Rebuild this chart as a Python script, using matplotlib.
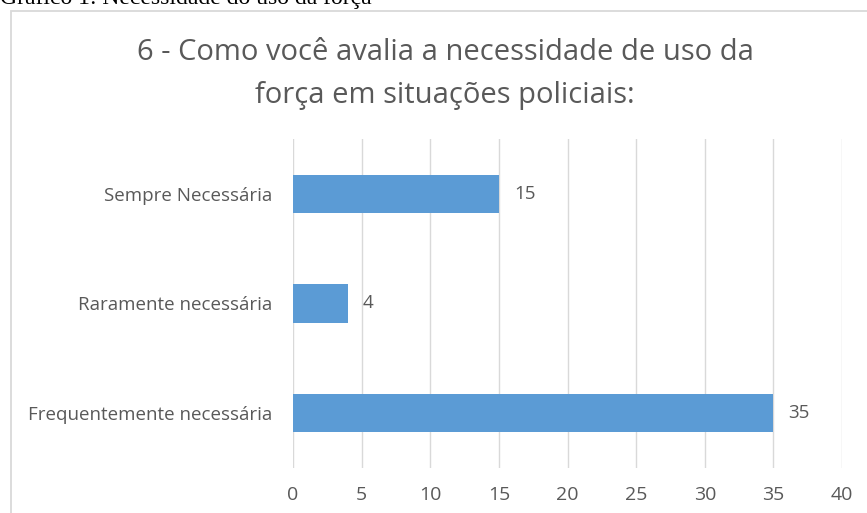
import matplotlib
matplotlib.use("Agg")
import matplotlib.pyplot as plt
from matplotlib.patches import Rectangle

categories = ["Frequentemente necessária", "Raramente necessária", "Sempre Necessária"]
values = [35, 4, 15]
ticks = [0, 5, 10, 15, 20, 25, 30, 35, 40]
title = "6 - Como você avalia a necessidade de uso da\nforça em situações policiais:"
caption = "Gráfico 1: Necessidade do uso da força"

W, H = 867, 513
fig = plt.figure(figsize=(W / 100, H / 100), dpi=100)
fig.patch.set_facecolor("white")

# chart border (cut by image edges)
fig.add_artist(Rectangle((10.5 / W, -0.1), 1.2, (H - 11.5) / H + 0.1, transform=fig.transFigure,
                         fill=False, edgecolor="#d9d9d9", linewidth=1.3))

# caption, cut at top
fig.text(0.0, 1 - 4 / H, caption, family="Liberation Serif", fontsize=17, color="black",
         ha="left", va="baseline")

ax = fig.add_axes([293 / W, 1 - 468 / H, (842 - 293) / W, (468 - 139) / H])
ypos = list(range(len(categories)))
ax.barh(ypos, values, height=0.35, color="#5b9bd5", zorder=3)
ax.set_xlim(0, 40)
ax.set_ylim(-0.5, len(categories) - 0.5)
ax.set_xticks(ticks)
ax.set_xticklabels([str(t) for t in ticks])
ax.set_yticks(ypos)
ax.set_yticklabels(categories)
ax.grid(axis="x", color="#d9d9d9", linewidth=1, zorder=0)
for s in ax.spines.values():
    s.set_visible(False)
ax.tick_params(axis="both", length=0, colors="#595959", labelsize=13.5)
ax.tick_params(axis="x", pad=13, labelsize=14)
ax.tick_params(axis="y", pad=15)
for lab in ax.get_xticklabels() + ax.get_yticklabels():
    lab.set_family("Open Sans")
    lab.set_color("#595959")

for y, v in zip(ypos, values):
    ax.text(v + 1.1, y, str(v), va="center", ha="left", family="Open Sans",
            fontsize=13.5, color="#595959")

fig.text(445 / W, 1 - 74 / H, title, ha="center", va="center", family="Open Sans",
         fontsize=21, color="#595959", linespacing=1.62)

fig.savefig("out.png", dpi=100)
